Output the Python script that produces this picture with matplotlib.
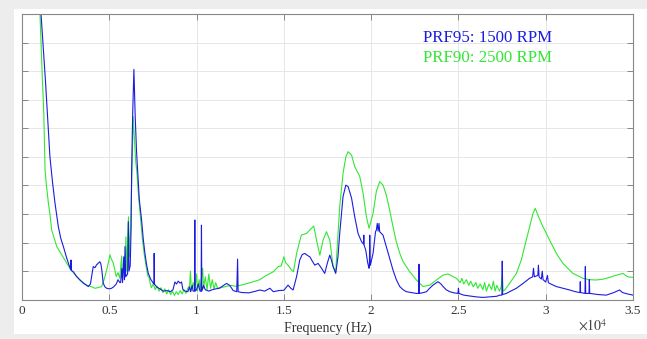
import matplotlib
matplotlib.use("Agg")
import matplotlib.pyplot as plt
from matplotlib.patches import Rectangle

plt.rcParams["mathtext.fontset"] = "stix"

# ---- data (frequency in units of 10^4 Hz, amplitude in arbitrary units) ----
blue_f = [0.095, 0.109, 0.135, 0.160, 0.175, 0.189, 0.208, 0.222, 0.237, 0.256, 0.270, 0.279, 0.281, 0.283,
          0.294, 0.303, 0.313, 0.330, 0.351, 0.365, 0.380, 0.392, 0.400, 0.408, 0.418, 0.427, 0.437, 0.446,
          0.452, 0.458, 0.465, 0.475, 0.485, 0.500, 0.513, 0.525, 0.540, 0.550, 0.560, 0.565, 0.572, 0.576,
          0.583, 0.587, 0.590, 0.594, 0.605, 0.609, 0.613, 0.620, 0.625, 0.628, 0.634, 0.641, 0.648, 0.656,
          0.662, 0.672, 0.685, 0.695, 0.704, 0.713, 0.723, 0.737, 0.752, 0.756, 0.757, 0.759, 0.770, 0.790,
          0.810, 0.830, 0.850, 0.865, 0.876, 0.885, 0.895, 0.905, 0.914, 0.922, 0.935, 0.950, 0.960, 0.965,
          0.975, 0.980, 0.988, 0.990, 0.992, 1.000, 1.010, 1.020, 1.026, 1.028, 1.030, 1.040, 1.050, 1.070,
          1.090, 1.110, 1.130, 1.150, 1.172, 1.190, 1.210, 1.230, 1.235, 1.238, 1.260, 1.300, 1.340, 1.362,
          1.390, 1.420, 1.440, 1.470, 1.500, 1.524, 1.540, 1.553, 1.573, 1.591, 1.605, 1.620, 1.635, 1.649,
          1.663, 1.677, 1.696, 1.716, 1.734, 1.750, 1.763, 1.772, 1.782, 1.797, 1.810, 1.820, 1.839, 1.855,
          1.868, 1.888, 1.906, 1.925, 1.945, 1.956, 1.958, 1.960, 1.969, 1.980, 1.988, 1.990, 1.992, 1.995,
          2.011, 2.020, 2.025, 2.030, 2.035, 2.040, 2.045, 2.049, 2.068, 2.087, 2.106, 2.125, 2.145, 2.164,
          2.183, 2.202, 2.230, 2.259, 2.272, 2.274, 2.276, 2.300, 2.317, 2.335, 2.354, 2.383, 2.400, 2.412,
          2.430, 2.450, 2.475, 2.497, 2.500, 2.503, 2.530, 2.564, 2.600, 2.640, 2.680, 2.720, 2.736, 2.749,
          2.751, 2.753, 2.775, 2.793, 2.832, 2.870, 2.908, 2.925, 2.930, 2.935, 2.946, 2.955, 2.958, 2.962,
          2.975, 2.980, 2.985, 3.000, 3.010, 3.015, 3.022, 3.061, 3.100, 3.137, 3.170, 3.196, 3.198, 3.200,
          3.225, 3.227, 3.229, 3.248, 3.250, 3.252, 3.300, 3.347, 3.390, 3.423, 3.440, 3.470, 3.500]
blue_v = [11.5, 10.0, 7.6, 5.0, 4.1, 3.38, 2.56, 2.15, 1.86, 1.46, 1.20, 1.05, 1.39, 1.02,
          0.98, 0.90, 0.81, 0.70, 0.58, 0.52, 0.46, 0.55, 0.85, 1.16, 1.12, 1.22, 1.28, 1.33,
          1.25, 1.00, 0.58, 0.45, 0.40, 0.38, 0.40, 0.45, 0.55, 0.70, 0.60, 0.60, 1.10, 0.60,
          1.50, 0.70, 1.86, 0.80, 0.90, 2.73, 1.00, 1.20, 2.50, 4.54, 6.50, 8.06, 6.50, 5.20,
          4.54, 3.50, 2.79, 2.10, 1.63, 1.25, 0.93, 0.72, 0.58, 0.55, 1.62, 0.55, 0.45, 0.38,
          0.30, 0.32, 0.28, 0.35, 0.62, 0.55, 0.65, 0.58, 0.62, 0.35, 0.30, 0.28, 0.45, 0.28,
          0.50, 0.30, 0.30, 2.79, 0.30, 0.35, 0.55, 0.30, 0.30, 2.61, 0.30, 0.50, 0.35, 0.30,
          0.35, 0.38, 0.40, 0.48, 0.57, 0.50, 0.32, 0.28, 1.42, 0.28, 0.25, 0.24, 0.30, 0.34,
          0.30, 0.40, 0.28, 0.32, 0.33, 0.51, 0.40, 0.34, 0.81, 1.39, 1.58, 1.62, 1.55, 1.50,
          1.35, 1.21, 1.27, 1.10, 0.92, 1.30, 1.56, 1.40, 1.16, 0.92, 1.50, 2.32, 3.61, 4.01,
          3.96, 3.55, 2.90, 2.32, 2.03, 1.95, 2.26, 1.90, 1.74, 1.30, 1.10, 1.20, 2.26, 1.20,
          1.62, 2.10, 2.38, 2.44, 2.67, 2.40, 2.67, 2.38, 2.26, 1.86, 1.45, 1.04, 0.69, 0.46,
          0.35, 0.28, 0.25, 0.22, 0.22, 1.24, 0.22, 0.25, 0.28, 0.40, 0.51, 0.63, 0.55, 0.46,
          0.35, 0.28, 0.24, 0.22, 0.40, 0.22, 0.16, 0.13, 0.10, 0.08, 0.10, 0.12, 0.16, 0.16,
          1.35, 0.18, 0.22, 0.28, 0.40, 0.57, 0.75, 0.80, 1.10, 0.80, 0.83, 0.85, 1.21, 0.80,
          0.72, 1.00, 0.70, 0.62, 0.85, 0.60, 0.57, 0.46, 0.40, 0.34, 0.28, 0.25, 0.63, 0.25,
          0.22, 1.16, 0.22, 0.22, 0.70, 0.22, 0.18, 0.16, 0.25, 0.34, 0.25, 0.20, 0.16]

green_f = [0.085, 0.103, 0.115, 0.125, 0.132, 0.140, 0.151, 0.160, 0.170, 0.199, 0.220, 0.256, 0.280, 0.313,
           0.340, 0.370, 0.400, 0.418, 0.440, 0.456, 0.470, 0.485, 0.495, 0.504, 0.510, 0.523, 0.540, 0.550,
           0.560, 0.571, 0.575, 0.585, 0.590, 0.595, 0.600, 0.610, 0.615, 0.622, 0.630, 0.637, 0.645, 0.652,
           0.657, 0.668, 0.680, 0.690, 0.700, 0.710, 0.720, 0.728, 0.735,
           0.741, 0.752, 0.763, 0.774, 0.785, 0.796, 0.807, 0.818, 0.829, 0.840, 0.851, 0.862, 0.873, 0.884,
           0.895, 0.906, 0.917, 0.928, 0.939, 0.950,
           0.960, 0.965, 0.970, 0.980, 0.990, 1.000, 1.005, 1.015, 1.020, 1.035, 1.040, 1.050, 1.060, 1.070,
           1.080, 1.090, 1.100, 1.110, 1.120, 1.140, 1.160, 1.180, 1.200, 1.220, 1.248, 1.280, 1.320, 1.362,
           1.400, 1.440, 1.468, 1.485, 1.500, 1.510, 1.525, 1.544, 1.555, 1.573, 1.600, 1.630, 1.649, 1.671,
           1.687, 1.706, 1.725, 1.744, 1.763, 1.782, 1.797, 1.820, 1.839, 1.855, 1.868, 1.888, 1.906, 1.935,
           1.954, 1.973, 1.988, 2.011, 2.030, 2.049, 2.068, 2.087, 2.106, 2.125, 2.144, 2.164, 2.183, 2.221,
           2.259, 2.297, 2.336, 2.374, 2.412, 2.440, 2.465, 2.488,
           2.510, 2.520, 2.530, 2.546, 2.560, 2.570, 2.585, 2.600, 2.610, 2.625, 2.640, 2.650, 2.660, 2.675,
           2.690, 2.700, 2.710, 2.720, 2.735, 2.745, 2.752, 2.755, 2.765, 2.793, 2.832, 2.860, 2.889, 2.908,
           2.927, 2.940, 2.955, 2.984, 3.022, 3.061, 3.099, 3.156, 3.213, 3.250, 3.290, 3.330, 3.366, 3.400,
           3.442, 3.470, 3.500]
green_v = [12.0, 10.0, 8.0, 6.5, 4.54, 4.0, 3.38, 3.0, 2.44, 1.86, 1.65, 1.28, 1.05, 0.81,
           0.65, 0.51, 0.45, 0.40, 0.43, 0.46, 0.70, 1.04, 1.30, 1.57, 1.45, 1.28, 0.81, 0.95,
           0.75, 1.53, 0.80, 1.20, 0.90, 2.20, 1.00, 2.90, 1.50, 2.50, 4.50, 6.41, 5.50, 4.80,
           4.54, 3.60, 2.79, 2.10, 1.60, 1.20, 0.85, 0.78, 0.55,
           0.42, 0.55, 0.35, 0.48, 0.30, 0.42, 0.25, 0.38, 0.20, 0.35, 0.18, 0.30, 0.15, 0.28,
           0.18, 0.32, 0.20, 0.35, 0.22, 0.40,
           0.50, 1.00, 0.30, 0.60, 0.35, 0.90, 0.30, 0.70, 0.35, 1.10, 0.40, 0.80, 0.35, 0.90,
           0.40, 0.70, 0.38, 0.60, 0.40, 0.42, 0.45, 0.48, 0.50, 0.47, 0.50, 0.55, 0.62, 0.70,
           0.85, 0.98, 1.16, 1.18, 1.50, 1.30, 1.20, 1.04, 0.98, 1.62, 2.26, 2.32, 2.44, 2.58,
           2.09, 1.56, 2.09, 2.38, 2.09, 1.16, 0.98, 3.26, 4.42, 5.00, 5.18, 5.06, 4.66, 4.31,
           3.72, 2.90, 2.50, 3.02, 3.80, 4.13, 4.01, 3.66, 3.14, 2.56, 2.03, 1.62, 1.33, 0.98,
           0.69, 0.46, 0.51, 0.69, 0.86, 0.90, 0.82, 0.75,
           0.60, 0.75, 0.55, 0.70, 0.50, 0.65, 0.45, 0.60, 0.40, 0.55, 0.35, 0.60, 0.30, 0.55,
           0.35, 0.65, 0.30, 0.50, 0.30, 0.45, 0.90, 0.30, 0.34, 0.57, 0.92, 1.39, 2.09, 2.56,
           3.02, 3.20, 2.96, 2.56, 2.09, 1.62, 1.27, 0.92, 0.75, 0.70, 0.69, 0.72, 0.78, 0.85,
           0.92, 0.80, 0.78]

x_ticks = [0, 0.5, 1, 1.5, 2, 2.5, 3, 3.5]
x_tick_labels = ["0", "0.5", "1", "1.5", "2", "2.5", "3", "3.5"]
y_ticks = list(range(0, 11))
legend_labels = ["PRF95: 1500 RPM", "PRF90: 2500 RPM"]

BLUE = "#1c1ce0"
GREEN = "#33e633"
SERIF = ["Liberation Serif", "DejaVu Serif"]

fig = plt.figure(figsize=(6.47, 3.39), dpi=100)
fig.patch.set_facecolor("#ededed")
fig.patches.append(Rectangle((14 / 647, 5 / 339), 633 / 647, 325 / 339,
                             transform=fig.transFigure, facecolor="white",
                             edgecolor="none", zorder=-10))

ax = fig.add_axes([22 / 647, (339 - 299.7) / 339, 611 / 647, 285.7 / 339])
ax.set_zorder(5)
ax.set_facecolor("white")
ax.plot(green_f, green_v, color=GREEN, lw=0.8)
ax.plot(blue_f, blue_v, color=BLUE, lw=0.8)

ax.set_xlim(0, 3.5)
ax.set_ylim(0, 10)
ax.set_xticks(x_ticks)
ax.set_xticklabels(x_tick_labels, fontfamily=SERIF, fontsize=9.5, color="#333333")
ax.set_yticks(y_ticks)
ax.set_yticklabels([])
ax.tick_params(direction="in", length=4, width=0.6, colors="#777777",
               top=True, right=True, labelcolor="#333333", pad=4)
ax.grid(True, color="#e6e6e6", lw=0.7)
ax.set_axisbelow(True)
for s in ax.spines.values():
    s.set_color("#888888")
    s.set_linewidth(0.8)

ax.set_xlabel("Frequency (Hz)", fontfamily=SERIF, fontsize=10, color="#333333", labelpad=3)
fig.text(578 / 647, 1 - 326 / 339, r"$\times10^{4}$", fontsize=10,
         color="#444444", va="center", ha="left", zorder=10)

fig.text(423 / 647, 1 - 38 / 339, legend_labels[0], fontfamily=SERIF, fontsize=12.2,
         color=BLUE, va="center", ha="left", zorder=10)
fig.text(423 / 647, 1 - 58 / 339, legend_labels[1], fontfamily=SERIF, fontsize=12.2,
         color=GREEN, va="center", ha="left", zorder=10)

fig.savefig("out.png", dpi=100, facecolor=fig.get_facecolor())
